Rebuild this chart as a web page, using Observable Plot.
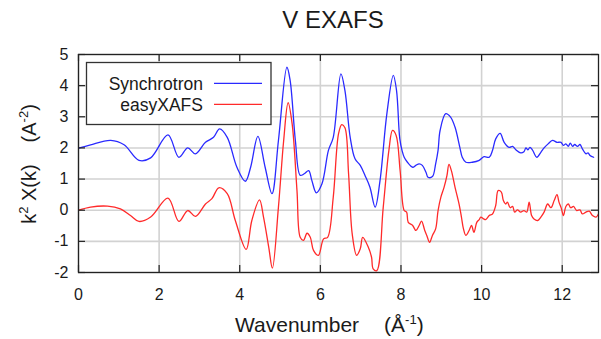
<!DOCTYPE html>
<html>
<head>
<meta charset="utf-8">
<script src="https://cdn.jsdelivr.net/npm/d3@7"></script>
<script src="https://cdn.jsdelivr.net/npm/@observablehq/plot@0.6"></script>
<style>
  html, body { margin: 0; padding: 0; background: #fff; }
  #wrap { position: relative; width: 601px; height: 339px; font-family: "Liberation Sans", Arial, sans-serif; }
  #overlay { position: absolute; left: 0; top: 0; pointer-events: none; }
</style>
</head>
<body>
<div id="wrap"></div>
<script>
// ---- data ----
const xTicks = [0, 2, 4, 6, 8, 10, 12];
const yTicks = [-2, -1, 0, 1, 2, 3, 4, 5];
const seriesNames = ["Synchrotron", "easyXAFS"];
const seriesColors = ["#2a2aff", "#ff2a2a"];

const synK = [0,0.3,0.8,1.13,1.5,1.79,2.22,2.49,2.71,2.9,3.15,3.35,3.5,3.69,3.93,4.14,4.27,4.45,4.63,4.8,4.96,5.17,5.25,5.38,5.5,5.6,5.71,5.79,5.9,6.04,6.2,6.32,6.51,6.61,6.74,6.86,6.99,7.11,7.23,7.36,7.48,7.65,7.81,7.89,7.97,8.03,8.08,8.16,8.29,8.37,8.45,8.53,8.62,8.67,8.78,8.86,8.92,8.97,9.11,9.23,9.34,9.46,9.52,9.61,9.77,9.94,10.06,10.19,10.27,10.35,10.46,10.56,10.68,10.77,10.85,10.97,11.05,11.1,11.15,11.2,11.26,11.37,11.47,11.55,11.65,11.76,11.87,11.97,12.03,12.09,12.15,12.2,12.26,12.31,12.38,12.44,12.5,12.59,12.64,12.69,12.78];
const synV = [1.99,2.1,2.24,2.1,1.6,1.68,2.42,1.70,2.0,1.81,2.18,2.34,2.61,2.34,1.38,0.93,1.38,2.37,1.38,0.53,2.24,4.59,4.17,2.24,1.12,1.17,1.27,0.95,0.56,0.85,1.92,2.34,4.38,3.84,2.34,1.65,1.44,1.11,0.74,0.10,0.95,3.1,4.33,3.84,2.3,1.9,1.70,1.54,1.38,1.44,1.49,1.44,1.22,1.06,1.08,1.49,1.92,2.56,3.1,2.99,2.67,2.02,1.7,1.54,1.54,1.6,1.72,1.70,1.92,2.29,2.47,2.18,2.02,2.05,1.94,1.84,1.88,2.0,1.94,2.02,1.94,1.70,1.86,2.0,2.13,2.24,2.18,2.18,2.08,2.13,2.05,2.15,2.05,2.11,2.05,2.11,1.97,1.81,1.84,1.76,1.70];

const easyK = [0,0.3,0.72,1.04,1.29,1.5,1.79,2.22,2.49,2.71,2.9,3.15,3.31,3.48,3.69,3.89,4.16,4.3,4.49,4.59,4.72,4.81,4.96,5.09,5.2,5.3,5.42,5.5,5.58,5.67,5.75,5.83,5.95,6.08,6.18,6.32,6.45,6.53,6.61,6.7,6.79,6.9,6.99,7.05,7.19,7.27,7.31,7.4,7.56,7.7,7.79,7.88,7.98,8.08,8.14,8.18,8.29,8.37,8.45,8.51,8.59,8.64,8.71,8.78,8.86,8.92,8.99,9.07,9.14,9.19,9.25,9.34,9.44,9.5,9.55,9.61,9.69,9.75,9.81,9.88,9.94,9.98,10.05,10.1,10.19,10.27,10.35,10.41,10.49,10.54,10.6,10.64,10.71,10.77,10.82,10.89,10.97,11.05,11.12,11.18,11.24,11.3,11.39,11.47,11.55,11.64,11.72,11.8,11.87,11.92,11.98,12.03,12.09,12.15,12.21,12.28,12.36,12.44,12.5,12.59,12.67,12.75,12.84,12.92];
const easyV = [0,0.1,0.13,0.04,-0.17,-0.36,-0.22,0.39,-0.36,-0.01,-0.2,0.2,0.37,0.72,0.53,-0.33,-1.26,-0.33,0.33,-0.22,-1.19,-1.86,0.1,2.24,3.45,2.77,0.63,-0.87,-0.97,-0.74,-0.87,-1.29,-1.45,-0.92,-0.87,0.42,2.45,2.75,2.65,1.17,-0.76,-1.45,-1.24,-0.87,-1.19,-1.51,-1.88,-1.94,0.1,1.92,2.56,2.4,1.25,-0.01,-0.06,-0.39,-0.49,-0.65,-0.49,-0.35,-0.65,-0.81,-1.03,-0.81,-0.6,-0.01,0.42,0.74,1.11,1.47,1.27,0.74,0.2,-0.22,-0.6,-0.81,-0.65,-0.49,-0.71,-0.39,-0.3,-0.22,-0.28,-0.3,-0.17,-0.12,0.15,0.63,0.58,0.31,0.2,0.26,0.08,0.12,-0.06,0.01,-0.06,-0.01,-0.06,0.26,-0.17,-0.28,-0.33,-0.22,-0.06,0.2,0.08,0.31,0.5,0.26,0.05,-0.17,0.12,0.2,0.08,0.12,-0.01,0.01,-0.12,-0.06,-0.03,-0.17,-0.22,-0.06];

const syn = synK.map((k, i) => ({k, v: synV[i]}));
const easy = easyK.map((k, i) => ({k, v: easyV[i]}));

// ---- layout ----
const W = 601, H = 339, mL = 78, mR = 3, mT = 54, mB = 67;
const fw = W - mL - mR, fh = H - mT - mB, tl = 7;
const gridStyle = {stroke: "#d2d2d2", strokeOpacity: 1, strokeWidth: 1.6};
const tickStyle = {stroke: "#222", strokeWidth: 1.2};

const chart = Plot.plot({
  width: W, height: H,
  marginLeft: mL, marginRight: mR, marginTop: mT, marginBottom: mB,
  x: {domain: [0, 12.9]},
  y: {domain: [-2, 5]},
  style: {fontFamily: "'Liberation Sans', Arial, sans-serif", fontSize: "16px", color: "#1a1a1a", background: "#fff"},
  marks: [
    Plot.gridX(xTicks, gridStyle),
    Plot.gridY(yTicks, gridStyle),
    Plot.line(syn, {x: "k", y: "v", stroke: seriesColors[0], strokeWidth: 1.3, curve: "catmull-rom", clip: true}),
    Plot.line(easy, {x: "k", y: "v", stroke: seriesColors[1], strokeWidth: 1.3, curve: "catmull-rom", clip: true}),
    Plot.tickY(yTicks, {y: d => d, insetRight: fw - tl, ...tickStyle}),
    Plot.tickY(yTicks, {y: d => d, insetLeft: fw - tl, ...tickStyle}),
    Plot.tickX(xTicks, {x: d => d, insetTop: fh - tl, ...tickStyle}),
    Plot.tickX(xTicks, {x: d => d, insetBottom: fh - tl, ...tickStyle}),
    Plot.axisX(xTicks, {tickSize: 0, tickPadding: 16, label: null, tickFormat: d => String(d), fontSize: 16}),
    Plot.axisY(yTicks, {tickSize: 0, tickPadding: 10, label: null, tickFormat: d => String(d), fontSize: 16}),
    Plot.frame({stroke: "#222", strokeWidth: 1.3})
  ]
});
document.getElementById("wrap").appendChild(chart);

// ---- overlay texts: title, axis labels, legend ----
const ns = "http://www.w3.org/2000/svg";
const ov = document.createElementNS(ns, "svg");
ov.setAttribute("id", "overlay");
ov.setAttribute("width", W);
ov.setAttribute("height", H);
ov.innerHTML = `
  <g font-family="'Liberation Sans', Arial, sans-serif" fill="#1a1a1a">
    <text x="333" y="28" font-size="24" text-anchor="middle">V EXAFS</text>
    <text x="235" y="332" font-size="21">Wavenumber<tspan dx="25">(Å</tspan><tspan dy="-8" font-size="13">-1</tspan><tspan dy="8">)</tspan></text>
    <g transform="translate(36,164) rotate(-90)">
      <text x="0" y="0" font-size="20" text-anchor="middle">k<tspan dy="-8" font-size="13">2</tspan><tspan dy="8"> X(k)</tspan><tspan dx="22">(A</tspan><tspan dy="-8" font-size="13">-2</tspan><tspan dy="8">)</tspan></text>
    </g>
    <rect x="86.5" y="62.5" width="184.5" height="62" fill="#fff" stroke="#333" stroke-width="1.3"></rect>
    <text x="203" y="90" font-size="17.5" text-anchor="end">${seriesNames[0]}</text>
    <text x="203" y="111" font-size="17.5" text-anchor="end">${seriesNames[1]}</text>
    <line x1="214" x2="262" y1="83.3" y2="83.3" stroke="${seriesColors[0]}" stroke-width="1.3"></line>
    <line x1="214" x2="262" y1="104.3" y2="104.3" stroke="${seriesColors[1]}" stroke-width="1.3"></line>
  </g>`;
document.getElementById("wrap").appendChild(ov);
</script>
</body>
</html>
